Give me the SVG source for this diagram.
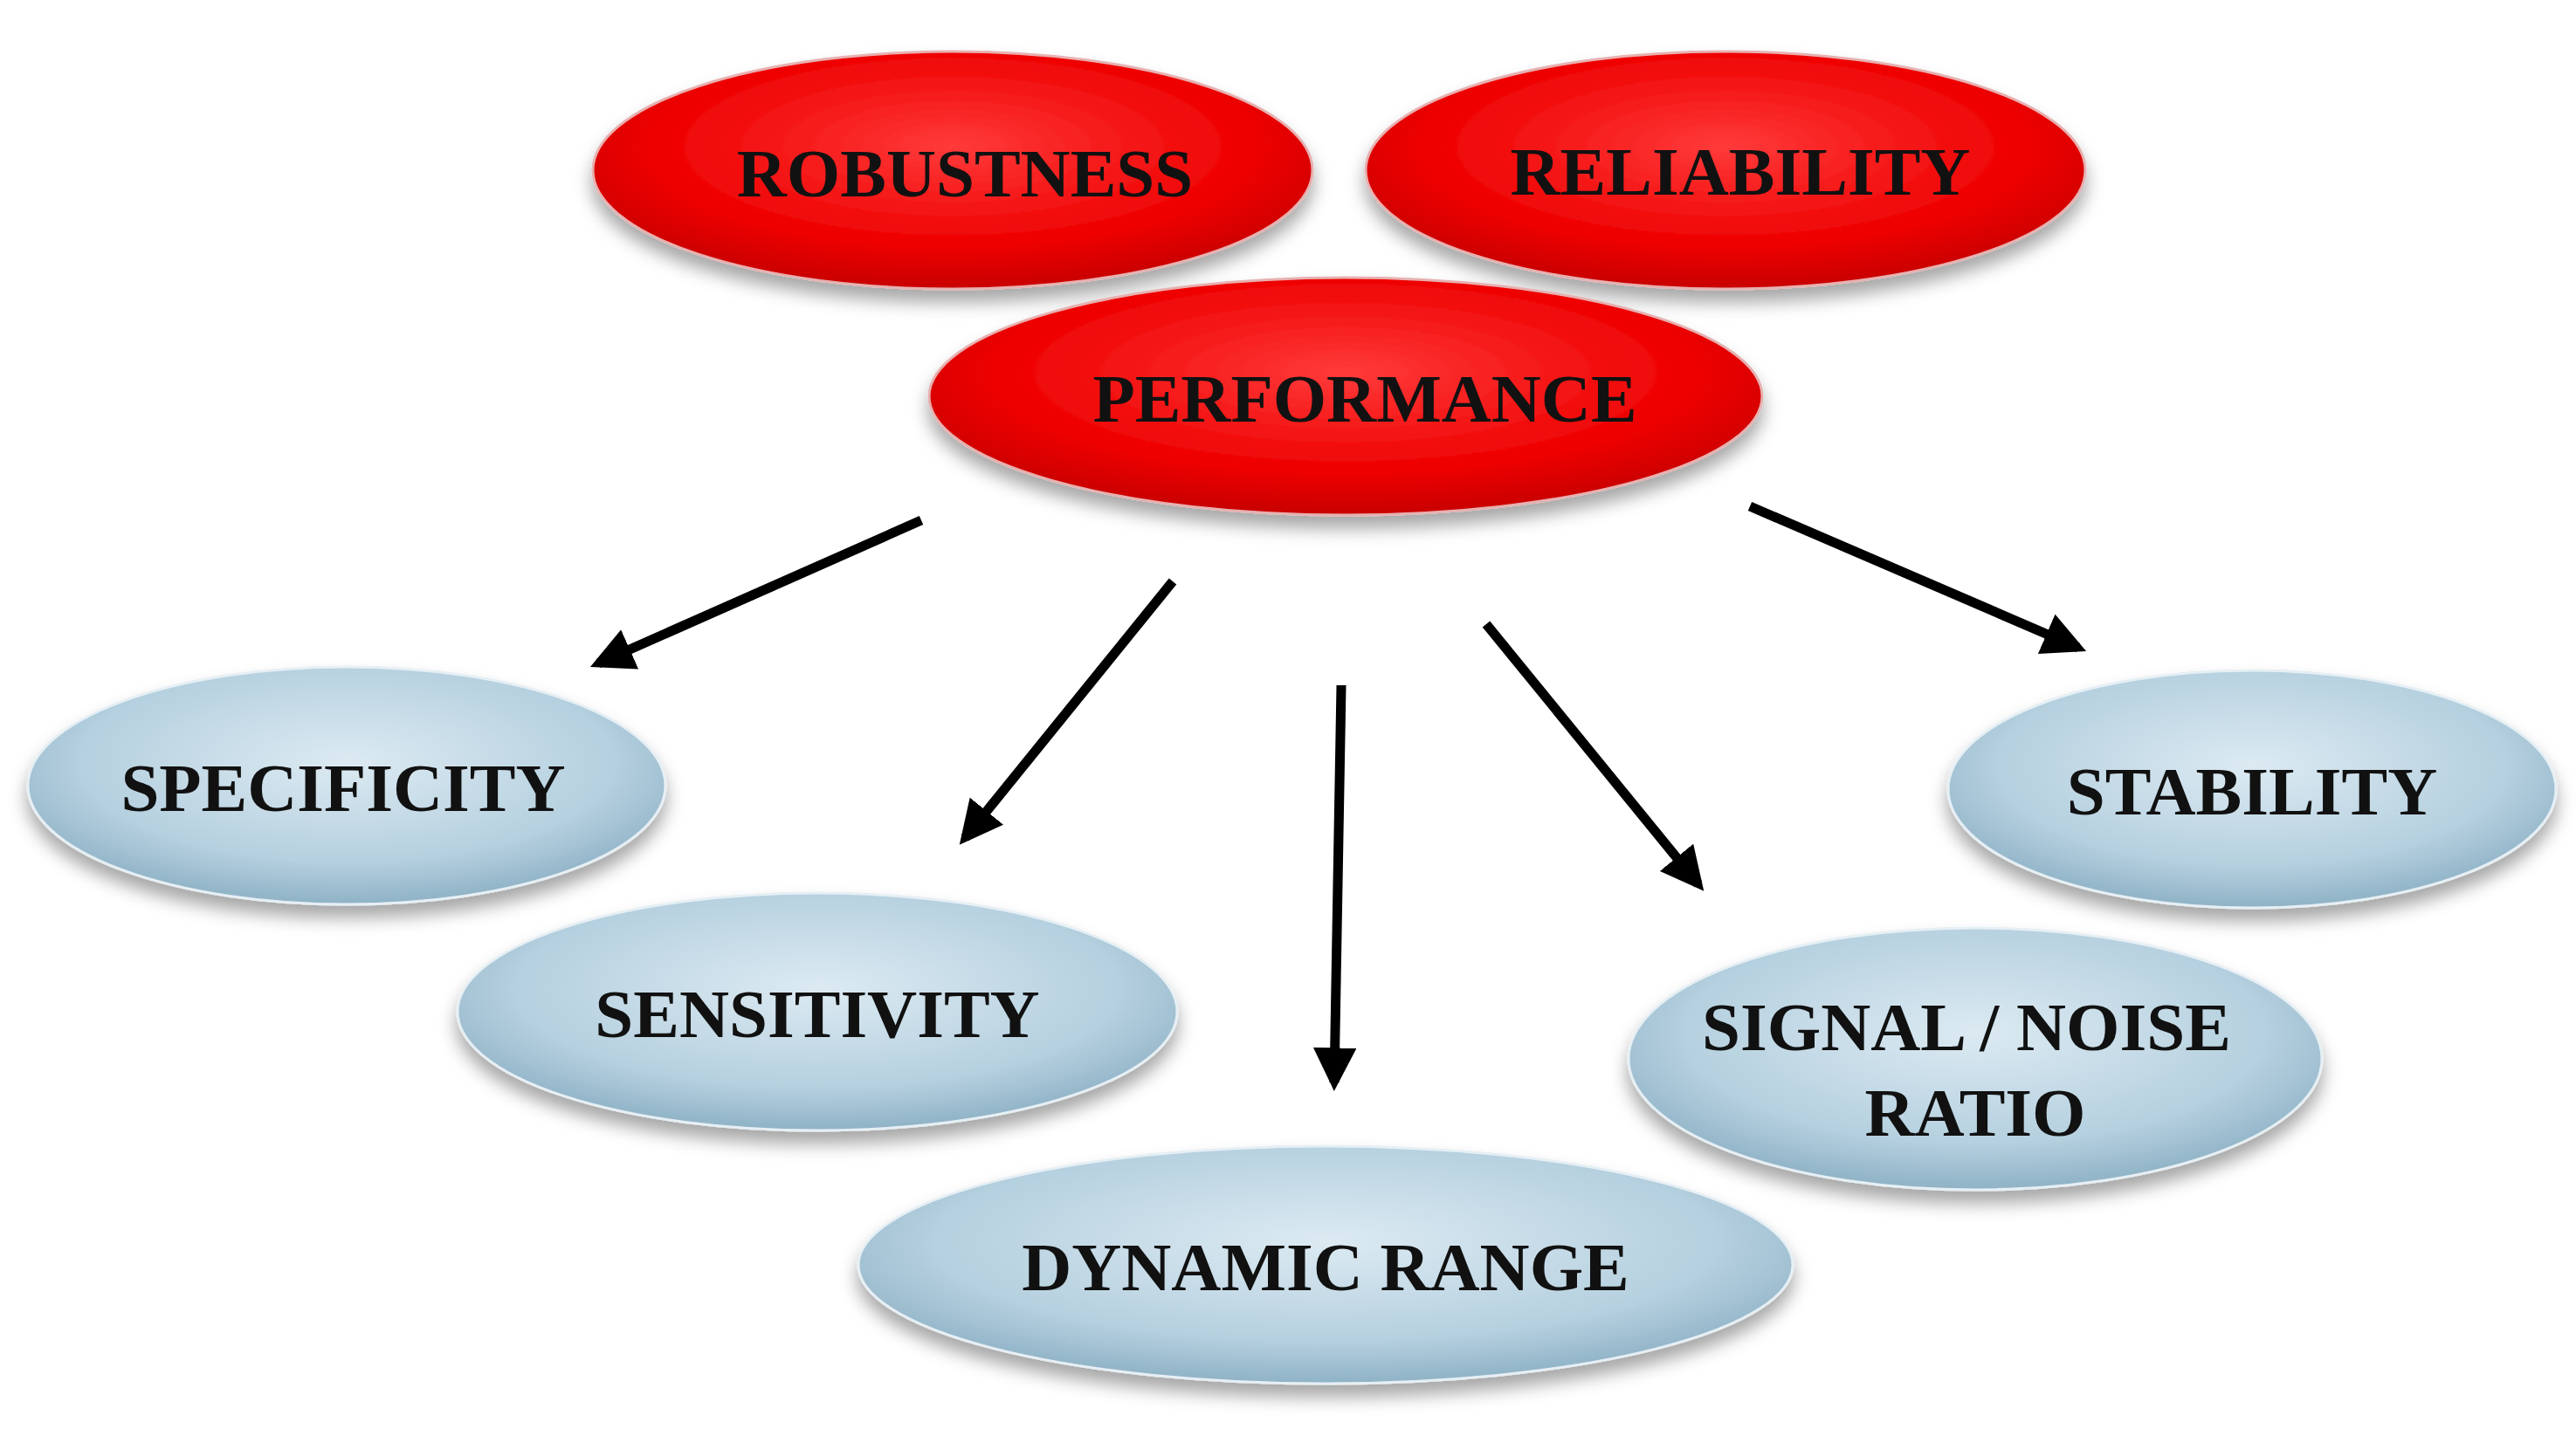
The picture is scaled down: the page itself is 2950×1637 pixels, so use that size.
<svg xmlns="http://www.w3.org/2000/svg" width="2950" height="1637" viewBox="0 0 2950 1637">
<defs>
<radialGradient id="red" cx="50%" cy="40%" r="60%">
<stop offset="0" stop-color="#ff3a3a"/><stop offset="0.7" stop-color="#ee0000"/><stop offset="1" stop-color="#c80000"/>
</radialGradient>
<radialGradient id="blue" cx="50%" cy="40%" r="60%">
<stop offset="0" stop-color="#dceaf2"/><stop offset="0.7" stop-color="#b5d0df"/><stop offset="1" stop-color="#8fb2c6"/>
</radialGradient>
<filter id="sh" x="-20%" y="-20%" width="140%" height="160%">
<feDropShadow dx="0" dy="14" stdDeviation="10" flood-color="#000" flood-opacity="0.35"/>
</filter>
<marker id="ah" viewBox="0 0 10 10" refX="8" refY="5" markerWidth="4.5" markerHeight="4.5" orient="auto">
<path d="M0,0 L10,5 L0,10 z" fill="#000"/>
</marker>
</defs>
<style>
.r{fill:url(#red);stroke:#e8b0b0;stroke-width:3;filter:url(#sh)}
.b{fill:url(#blue);stroke:#e6eff4;stroke-width:3;filter:url(#sh)}
text{font-family:"Liberation Serif","Times New Roman",serif;font-weight:bold;font-size:79px;fill:#111;text-anchor:middle;dominant-baseline:central}
.c line{stroke:#000;stroke-width:11;marker-end:url(#ah)}
</style>
<rect width="2950" height="1637" fill="#fff"/>
<g id="robustness"><ellipse class="r" cx="1091" cy="195" rx="412" ry="136"/><text x="1105" y="198">ROBUSTNESS</text></g>
<g id="reliability"><ellipse class="r" cx="1976" cy="195" rx="412" ry="136"/><text x="1993" y="196">RELIABILITY</text></g>
<g id="performance"><ellipse class="r" cx="1541" cy="454" rx="477" ry="136"/><text x="1563" y="456">PERFORMANCE</text></g>
<g id="specificity"><ellipse class="b" cx="397" cy="900" rx="365" ry="136"/><text x="393" y="902">SPECIFICITY</text></g>
<g id="sensitivity"><ellipse class="b" cx="936" cy="1159" rx="412" ry="136"/><text x="936" y="1161">SENSITIVITY</text></g>
<g id="dynamic"><ellipse class="b" cx="1518" cy="1449" rx="535" ry="136"/><text x="1518" y="1451">DYNAMIC RANGE</text></g>
<g id="signal"><ellipse class="b" cx="2262" cy="1213" rx="397" ry="150"/><text x="2252" y="1176">SIGNAL / NOISE</text><text x="2262" y="1274">RATIO</text></g>
<g id="stability"><ellipse class="b" cx="2579" cy="904" rx="348" ry="136"/><text x="2579" y="906">STABILITY</text></g>
<g class="c" id="connectors">
<line x1="1055" y1="596" x2="685" y2="760"/>
<line x1="1343" y1="666" x2="1105" y2="960"/>
<line x1="1536" y1="785" x2="1528" y2="1240"/>
<line x1="1702" y1="715" x2="1945" y2="1013"/>
<line x1="2004" y1="580" x2="2380" y2="742"/>
</g>
</svg>
